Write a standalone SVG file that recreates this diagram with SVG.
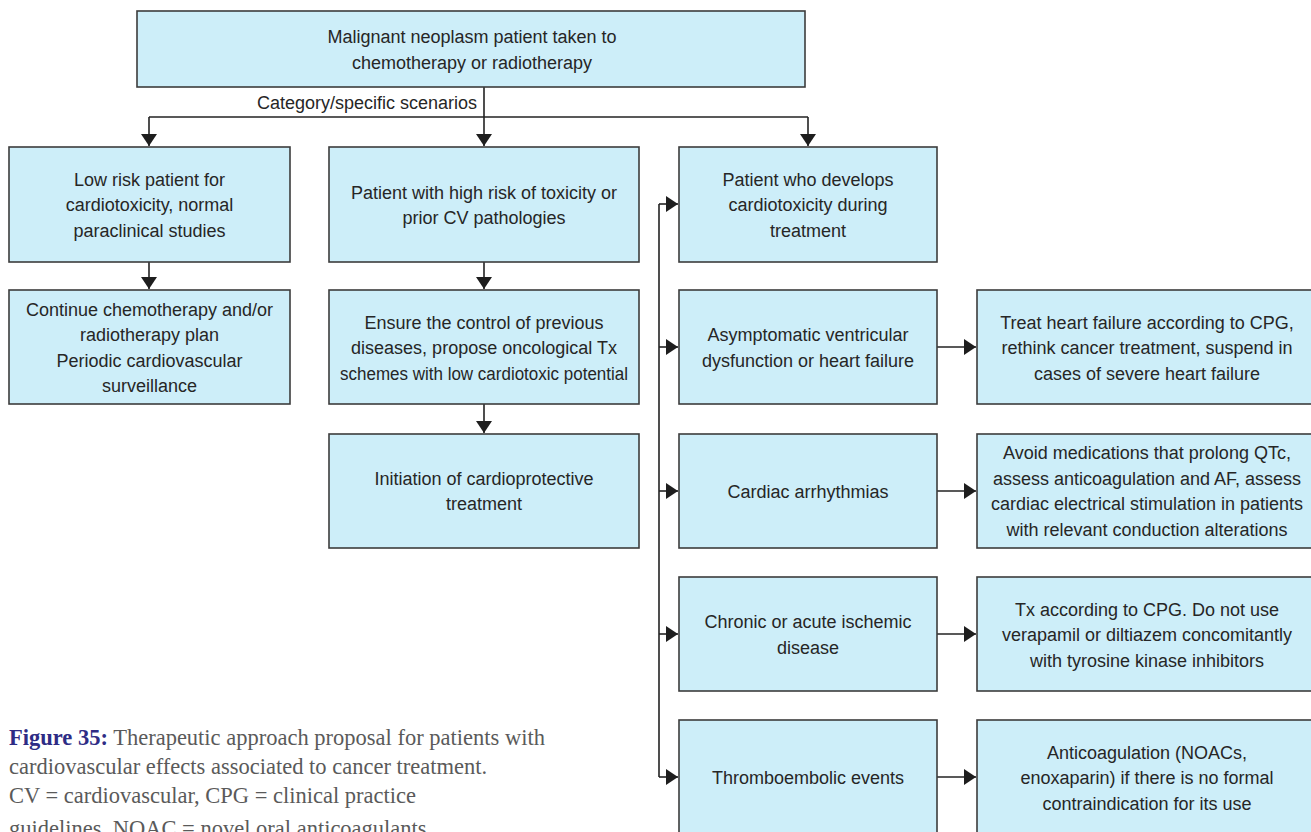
<svg xmlns="http://www.w3.org/2000/svg" width="1311" height="832" viewBox="0 0 1311 832">
  <defs>
    <style>
      .box { fill: #cdeef9; stroke: #3c3c3c; stroke-width: 1.6; }
      .t { font-family: "Liberation Sans", Arial, sans-serif; font-size: 18px; fill: #262626; text-anchor: middle; }
      .lbl { font-family: "Liberation Sans", Arial, sans-serif; font-size: 18px; fill: #262626; text-anchor: end; }
      .link { fill: none; stroke: #222; stroke-width: 1.6; }
      .arr { marker-end: url(#head); }
      .cap { font-family: "Liberation Serif", "Times New Roman", serif; font-size: 22.5px; fill: #5a5a5a; }
      .capb { font-weight: bold; fill: #2e2c85; }
    </style>
    <marker id="head" markerUnits="userSpaceOnUse" markerWidth="12" markerHeight="16" refX="12" refY="8" orient="auto">
      <path d="M0,0 L12,8 L0,16 z" fill="#1e1e1e"/>
    </marker>
  </defs>

  <rect width="1311" height="832" fill="#ffffff"/>

  <!-- connectors -->
  <g id="connectors">
    <path class="link arr" d="M484,87 V146"/>
    <path class="link" d="M149,117 H808"/>
    <path class="link arr" d="M149,117 V146"/>
    <path class="link arr" d="M808,117 V146"/>
    <path class="link arr" d="M149,262 V289"/>
    <path class="link arr" d="M484,262 V289"/>
    <path class="link arr" d="M484,404 V433"/>
    <path class="link" d="M659,204 V777"/>
    <path class="link arr" d="M659,204 H678"/>
    <path class="link arr" d="M659,347 H678"/>
    <path class="link arr" d="M659,491 H678"/>
    <path class="link arr" d="M659,634 H678"/>
    <path class="link arr" d="M659,777 H678"/>
    <path class="link arr" d="M937,347 H976"/>
    <path class="link arr" d="M937,491 H976"/>
    <path class="link arr" d="M937,634 H976"/>
    <path class="link arr" d="M937,777 H976"/>
    <text class="lbl" x="477" y="109">Category/specific scenarios</text>
  </g>

  <!-- top node -->
  <g id="start">
    <rect class="box" x="137" y="11" width="668" height="76"/>
    <text class="t" x="472" y="43">Malignant neoplasm patient taken to</text>
    <text class="t" x="472" y="68.5">chemotherapy or radiotherapy</text>
  </g>

  <!-- low risk column -->
  <g id="low-risk">
    <rect class="box" x="9" y="147" width="281" height="115"/>
    <text class="t" x="149.5" y="185.5">Low risk patient for</text>
    <text class="t" x="149.5" y="211">cardiotoxicity, normal</text>
    <text class="t" x="149.5" y="236.5">paraclinical studies</text>
  </g>
  <g id="continue-plan">
    <rect class="box" x="9" y="290" width="281" height="114"/>
    <text class="t" x="149.5" y="315.5">Continue chemotherapy and/or</text>
    <text class="t" x="149.5" y="341">radiotherapy plan</text>
    <text class="t" x="149.5" y="366.5">Periodic cardiovascular</text>
    <text class="t" x="149.5" y="392">surveillance</text>
  </g>

  <!-- high risk column -->
  <g id="high-risk">
    <rect class="box" x="329" y="147" width="310" height="115"/>
    <text class="t" x="484" y="198.5">Patient with high risk of toxicity or</text>
    <text class="t" x="484" y="224">prior CV pathologies</text>
  </g>
  <g id="control-diseases">
    <rect class="box" x="329" y="290" width="310" height="114"/>
    <text class="t" x="484" y="328.5">Ensure the control of previous</text>
    <text class="t" x="484" y="354">diseases, propose oncological Tx</text>
    <text class="t" x="484" y="379.5" textLength="288" lengthAdjust="spacingAndGlyphs">schemes with low cardiotoxic potential</text>
  </g>
  <g id="cardioprotective">
    <rect class="box" x="329" y="434" width="310" height="114"/>
    <text class="t" x="484" y="484.5">Initiation of cardioprotective</text>
    <text class="t" x="484" y="510">treatment</text>
  </g>

  <!-- cardiotoxicity column -->
  <g id="develops-cardiotoxicity">
    <rect class="box" x="679" y="147" width="258" height="115"/>
    <text class="t" x="808" y="185.5">Patient who develops</text>
    <text class="t" x="808" y="211">cardiotoxicity during</text>
    <text class="t" x="808" y="236.5">treatment</text>
  </g>
  <g id="ventricular-dysfunction">
    <rect class="box" x="679" y="290" width="258" height="114"/>
    <text class="t" x="808" y="341">Asymptomatic ventricular</text>
    <text class="t" x="808" y="366.5">dysfunction or heart failure</text>
  </g>
  <g id="arrhythmias">
    <rect class="box" x="679" y="434" width="258" height="114"/>
    <text class="t" x="808" y="497.5">Cardiac arrhythmias</text>
  </g>
  <g id="ischemic-disease">
    <rect class="box" x="679" y="577" width="258" height="114"/>
    <text class="t" x="808" y="628">Chronic or acute ischemic</text>
    <text class="t" x="808" y="653.5">disease</text>
  </g>
  <g id="thromboembolic">
    <rect class="box" x="679" y="720" width="258" height="115"/>
    <text class="t" x="808" y="783.5">Thromboembolic events</text>
  </g>

  <!-- management column -->
  <g id="treat-heart-failure">
    <rect class="box" x="977" y="290" width="345" height="114"/>
    <text class="t" x="1147" y="328.5">Treat heart failure according to CPG,</text>
    <text class="t" x="1147" y="354">rethink cancer treatment, suspend in</text>
    <text class="t" x="1147" y="379.5">cases of severe heart failure</text>
  </g>
  <g id="avoid-qtc">
    <rect class="box" x="977" y="434" width="345" height="114"/>
    <text class="t" x="1147" y="459">Avoid medications that prolong QTc,</text>
    <text class="t" x="1147" y="484.5">assess anticoagulation and AF, assess</text>
    <text class="t" x="1147" y="510">cardiac electrical stimulation in patients</text>
    <text class="t" x="1147" y="535.5">with relevant conduction alterations</text>
  </g>
  <g id="tx-cpg">
    <rect class="box" x="977" y="577" width="345" height="114"/>
    <text class="t" x="1147" y="615.5">Tx according to CPG. Do not use</text>
    <text class="t" x="1147" y="641">verapamil or diltiazem concomitantly</text>
    <text class="t" x="1147" y="666.5">with tyrosine kinase inhibitors</text>
  </g>
  <g id="anticoagulation">
    <rect class="box" x="977" y="720" width="345" height="115"/>
    <text class="t" x="1147" y="758.5">Anticoagulation (NOACs,</text>
    <text class="t" x="1147" y="784">enoxaparin) if there is no formal</text>
    <text class="t" x="1147" y="809.5">contraindication for its use</text>
  </g>

  <!-- caption -->
  <g id="caption">
    <text class="cap" x="9" y="745"><tspan class="capb">Figure 35:</tspan> Therapeutic approach proposal for patients with</text>
    <text class="cap" x="9" y="774">cardiovascular effects associated to cancer treatment.</text>
    <text class="cap" x="9" y="803">CV = cardiovascular, CPG = clinical practice</text>
    <text class="cap" x="9" y="836">guidelines, NOAC = novel oral anticoagulants</text>
  </g>
</svg>
